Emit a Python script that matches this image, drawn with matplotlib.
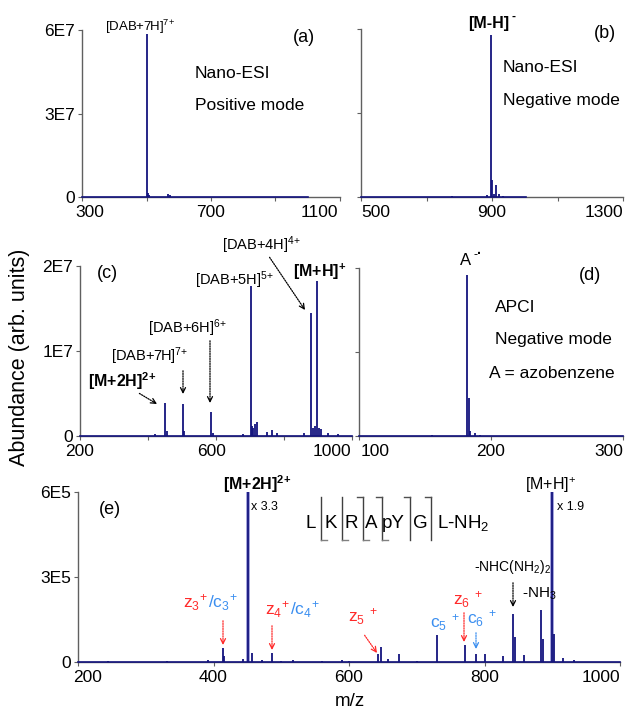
import matplotlib
matplotlib.use("Agg")
import matplotlib.pyplot as plt
from matplotlib.ticker import FixedLocator, FixedFormatter, NullFormatter

plt.rcParams['font.family'] = ['Liberation Sans', 'DejaVu Sans']
plt.rcParams['mathtext.fontset'] = 'custom'
plt.rcParams['mathtext.rm'] = 'Liberation Sans'
plt.rcParams['mathtext.it'] = 'Liberation Sans:italic'
plt.rcParams['mathtext.bf'] = 'Liberation Sans:bold'
plt.rcParams['mathtext.default'] = 'regular'

# ---------------- data ----------------
# (a) Nano-ESI positive
a_mz = [503, 505, 509, 567, 572]
a_int = [5.86e7, 1.5e6, 0.6e6, 1.0e6, 0.6e6]
a_span = [300, 1000]
a_xticks = [300, 500, 700, 900, 1100]
a_xlabels = ['300', '', '700', '', '1100']
a_yticks = [0, 3e7, 6e7]
a_ylabels = ['0', '3E7', '6E7']

# (b) Nano-ESI negative
b_mz = [778, 885, 898, 899.5, 906, 911, 920, 935]
b_int = [0.3e6, 0.8e6, 5.8e7, 6.0e6, 1.2e6, 4.3e6, 1.0e6, 0.4e6]
b_span = [500, 1005]
b_xticks = [500, 700, 900, 1100, 1300]
b_xlabels = ['500', '', '900', '', '1300']

# (c)
c_mz = [420, 450, 455, 503, 507, 586, 590, 680, 703, 706, 710, 714, 720,
        750, 765, 780, 860, 879, 884, 890, 897, 903, 910, 930, 960]
c_int = [0.2e6, 3.9e6, 0.6e6, 3.8e6, 0.6e6, 2.8e6, 0.3e6, 0.2e6, 1.76e7,
         1.2e6, 1.0e6, 1.4e6, 1.7e6, 0.5e6, 0.7e6, 0.3e6, 0.3e6, 1.45e7,
         1.0e6, 1.2e6, 1.82e7, 1.0e6, 0.8e6, 0.3e6, 0.2e6]
c_span = [200, 1000]
c_xticks = [200, 400, 600, 800, 1000]
c_xlabels = ['200', '', '600', '', '1000']
cd_yticks = [0, 1e7, 2e7]
c_ylabels = ['0', '1E7', '2E7']

# (d) APCI negative
d_mz = [155, 182, 183, 184, 188, 192]
d_int = [0.1e6, 1.92e7, 4.5e6, 0.6e6, 0.3e6, 0.1e6]
d_span = [100, 300]
d_xticks = [100, 200, 300]
d_xlabels = ['100', '200', '300']

# (e) peptide
e_mz = [244, 331, 392, 414, 416, 443, 451, 457, 472, 486, 500, 517, 560,
        590, 600, 643, 647, 658, 674, 700, 730, 771, 787, 801, 827, 842,
        845, 858, 883, 886, 900, 902, 916, 932]
e_int = [0.4e4, 0.4e4, 0.6e4, 4.9e4, 2.0e4, 1.0e4, 6.0e5, 3.2e4, 0.7e4,
         3.2e4, 0.5e4, 0.7e4, 0.5e4, 0.6e4, 0.5e4, 2.8e4, 5.3e4, 1.0e4,
         2.9e4, 0.5e4, 9.5e4, 6.0e4, 2.8e4, 2.7e4, 2.2e4, 1.7e5, 0.9e5,
         2.5e4, 1.83e5, 0.8e5, 6.0e5, 1.0e5, 1.4e4, 0.6e4]
e_big = [451, 900]
e_big_int = [6.0e5, 6.0e5]
e_span = [200, 1000]
e_xticks = [200, 400, 600, 800, 1000]
e_xlabels = ['200', '400', '600', '800', '1000']
e_yticks = [0, 3e5, 6e5]
e_ylabels = ['0', '3E5', '6E5']

peptide = ['L', 'K', 'R', 'A', 'pY', 'G']

# ---------------- layout ----------------
W, H = 633, 718
fig = plt.figure(figsize=(W / 100, H / 100), dpi=100)

NAVY = '#14147e'
SPINE = '#606060'
RED = '#ff2a2a'
BLUE = '#3a8ef0'


def rect(l, r, t, b):
    return [l / W, 1 - b / H, (r - l) / W, (b - t) / H]


def make_ax(r, mz, inten, span, xt, xl, yt, yl, ylim, align):
    ax = fig.add_axes(rect(*r))
    ax.plot(span, [0, 0], color=NAVY, lw=1.2, zorder=3, clip_on=False)
    ax.vlines(mz, 0, inten, color=NAVY, lw=1.3, zorder=3, clip_on=False)
    ax.set_xlim(xt[0], xt[-1])
    ax.set_ylim(*ylim)
    for s in ['top', 'right']:
        ax.spines[s].set_visible(False)
    for s in ['left', 'bottom']:
        ax.spines[s].set_color(SPINE)
        ax.spines[s].set_linewidth(1.0)
    ax.xaxis.set_major_locator(FixedLocator(xt))
    ax.xaxis.set_major_formatter(NullFormatter())
    ax.yaxis.set_major_locator(FixedLocator(yt))
    ax.yaxis.set_major_formatter(FixedFormatter(yl))
    ax.tick_params(axis='both', direction='out', length=3, width=0.8,
                   color=SPINE, labelsize=12.5, pad=2)
    # x tick labels with per-label horizontal alignment (as in the reference)
    for x, lab, (ha, dx) in zip(xt, xl, align):
        if lab:
            ax.annotate(lab, xy=(x, 0), xycoords=('data', 'axes fraction'),
                        xytext=(dx, -8), textcoords='offset pixels',
                        ha=ha, va='top', fontsize=12.5)
    return ax


C = ('center', 0)
ax_a = make_ax((82, 340, 30, 197), a_mz, a_int, a_span, a_xticks, a_xlabels,
               a_yticks, a_ylabels, (0, 6e7),
               [('center', 8), C, C, C, ('right', -2)])
ax_b = make_ax((361, 623, 29, 197), b_mz, b_int, b_span, b_xticks, b_xlabels,
               a_yticks, ['', '', ''], (0, 6e7),
               [('left', 0), C, C, C, ('right', 0)])
ax_c = make_ax((80, 352, 266, 436), c_mz, c_int, c_span, c_xticks, c_xlabels,
               cd_yticks, c_ylabels, (0, 2e7),
               [C, C, ('center', -4), C, ('right', -1)])
ax_d = make_ax((359, 623, 268, 436), d_mz, d_int, d_span, d_xticks, d_xlabels,
               cd_yticks, ['', '', ''], (0, 2e7),
               [('left', 2), C, ('right', 0)])
ax_e = make_ax((78, 620, 492, 662), e_mz, e_int, e_span, e_xticks, e_xlabels,
               e_yticks, e_ylabels, (0, 6e5),
               [('center', 10), C, C, C, ('right', 0)])
ax_e.vlines(e_big, 0, e_big_int, color='#9090d4', lw=2.6, zorder=2, clip_on=False)


# ---------------- helpers ----------------
def ftext(x, y, s, **kw):
    fig.text(x / W, 1 - y / H, s, **kw)


def farrow(x0, y0, x1, y1, color='black'):
    fig.add_artist(matplotlib.patches.FancyArrowPatch(
        (x0 / W, 1 - y0 / H), (x1 / W, 1 - y1 / H),
        transform=fig.transFigure, arrowstyle='-', linestyle=(0, (1, 1)),
        color=color, lw=0.9))
    dx, dy = x1 - x0, y1 - y0
    n = (dx * dx + dy * dy) ** 0.5
    fig.add_artist(matplotlib.patches.FancyArrowPatch(
        ((x1 - 4 * dx / n) / W, 1 - (y1 - 4 * dy / n) / H), (x1 / W, 1 - y1 / H),
        transform=fig.transFigure, arrowstyle='->', mutation_scale=9,
        color=color, lw=0.9, shrinkA=0, shrinkB=0))


# axis titles
ftext(20, 357, 'Abundance (arb. units)', rotation=90, ha='center', va='center',
      fontsize=15.5)
ftext(350, 702, 'm/z', ha='center', va='center', fontsize=13.5)

# panel (a)
ftext(140, 31, r'[DAB+7H]$^{7{+}}$', ha='center', va='baseline', fontsize=9.5)
ftext(304, 38, '(a)', ha='center', va='center', fontsize=13)
ftext(195, 73, 'Nano-ESI', ha='left', va='center', fontsize=12.5)
ftext(195, 106, 'Positive mode', ha='left', va='center', fontsize=12.5)

# panel (b)
ftext(489, 28, '[M-H]', ha='center', va='baseline',
      fontsize=11.5, fontweight='bold')
ftext(511, 20, '-', ha='left', va='baseline', fontsize=8.5, fontweight='bold')
ftext(605, 34, '(b)', ha='center', va='center', fontsize=13)
ftext(503, 68, 'Nano-ESI', ha='left', va='center', fontsize=12.5)
ftext(503, 100, 'Negative mode', ha='left', va='center', fontsize=12.5)

# panel (c)
ftext(107, 274, '(c)', ha='center', va='center', fontsize=13)
ftext(222, 250, r'[DAB+4H]$^{4{+}}$', ha='left', va='baseline', fontsize=10.5)
ftext(195, 285, r'[DAB+5H]$^{5{+}}$', ha='left', va='baseline', fontsize=10.5)
ftext(293, 277, r'[M+H]$^{\mathbf{+}}$', ha='left', va='baseline',
      fontsize=11.5, fontweight='bold')
ftext(148, 333, r'[DAB+6H]$^{6{+}}$', ha='left', va='baseline', fontsize=10.5)
ftext(111, 361, r'[DAB+7H]$^{7{+}}$', ha='left', va='baseline', fontsize=10.5)
ftext(88, 387, r'[M+2H]$^{\mathbf{2{+}}}$', ha='left', va='baseline',
      fontsize=11.5, fontweight='bold')
farrow(137, 392, 157, 404)
farrow(183, 368, 183, 394)
farrow(210, 338, 210, 403)
farrow(268, 255, 305, 310)

# panel (d)
ftext(466, 265, 'A', ha='center', va='baseline', fontsize=12)
ftext(473, 258, '-', ha='left', va='baseline', fontsize=9)
ftext(477, 258, '·', ha='left', va='baseline', fontsize=10, fontweight='bold')
ftext(590, 275, '(d)', ha='center', va='center', fontsize=13)
ftext(495, 307, 'APCI', ha='left', va='center', fontsize=12.5)
ftext(495, 340, 'Negative mode', ha='left', va='center', fontsize=12.5)
ftext(489, 374, 'A = azobenzene', ha='left', va='center', fontsize=12.5)

# panel (e)
ftext(110, 510, '(e)', ha='center', va='center', fontsize=13)
ftext(257, 490, r'[M+2H]$^{\mathbf{2{+}}}$', ha='center', va='baseline',
      fontsize=11.5, fontweight='bold')
ftext(251, 507, 'x 3.3', ha='left', va='center', fontsize=9)
ftext(551, 490, r'[M+H]$^{+}$', ha='center', va='baseline', fontsize=11.5)
ftext(557, 507, 'x 1.9', ha='left', va='center', fontsize=9)

ftext(208, 608, r'$z_3{}^{+}$', ha='right', va='baseline', fontsize=12.5, color=RED)
ftext(208, 608, r'/$c_3{}^{+}$', ha='left', va='baseline', fontsize=12.5, color=BLUE)
ftext(290, 615, r'$z_4{}^{+}$', ha='right', va='baseline', fontsize=12.5, color=RED)
ftext(290, 615, r'/$c_4{}^{+}$', ha='left', va='baseline', fontsize=12.5, color=BLUE)
ftext(348, 622, r'$z_5{}^{\ +}$', ha='left', va='baseline', fontsize=12.5, color=RED)
ftext(430, 628, r'$c_5{}^{\ +}$', ha='left', va='baseline', fontsize=12.5, color=BLUE)
ftext(453, 605, r'$z_6{}^{\ +}$', ha='left', va='baseline', fontsize=12.5, color=RED)
ftext(467, 624, r'$c_6{}^{\ +}$', ha='left', va='baseline', fontsize=12.5, color=BLUE)
ftext(474, 567, r'-NHC(NH$_2$)$_2$', ha='left', va='center', fontsize=10)
ftext(522, 594, r'-NH$_3$', ha='left', va='center', fontsize=11)

farrow(223, 618, 223, 645, RED)
farrow(272, 623, 272, 650, RED)
farrow(363, 633, 377, 653, RED)
farrow(464, 610, 464, 642, RED)
farrow(476, 630, 476, 649, BLUE)
farrow(513, 580, 513, 607)

# peptide sequence with fragmentation marks
res_x = [311, 330.5, 351, 371, 393, 420]
div_x = [321, 342, 363, 382, 410, 431]
seq_y = 523
for rx, r in zip(res_x, peptide):
    ftext(rx, seq_y, r, ha='center', va='center', fontsize=13.5)
ftext(437, seq_y, r'L-NH$_2$', ha='left', va='center', fontsize=13.5)
top_y, bot_y = 497, 540
for i, dx in enumerate(div_x):
    fig.add_artist(matplotlib.lines.Line2D([dx / W, dx / W],
                                           [1 - top_y / H, 1 - bot_y / H],
                                           color='#404040', lw=1.0))
    if i >= 2:   # c ions: top hook pointing left
        fig.add_artist(matplotlib.lines.Line2D([(dx - 6) / W, dx / W],
                                               [1 - top_y / H, 1 - top_y / H],
                                               color='#505050', lw=1.0))
    if i <= 3:   # z ions: bottom hook pointing right
        fig.add_artist(matplotlib.lines.Line2D([dx / W, (dx + 6) / W],
                                               [1 - bot_y / H, 1 - bot_y / H],
                                               color='#808080', lw=1.0))

fig.savefig('out.png', dpi=100)
